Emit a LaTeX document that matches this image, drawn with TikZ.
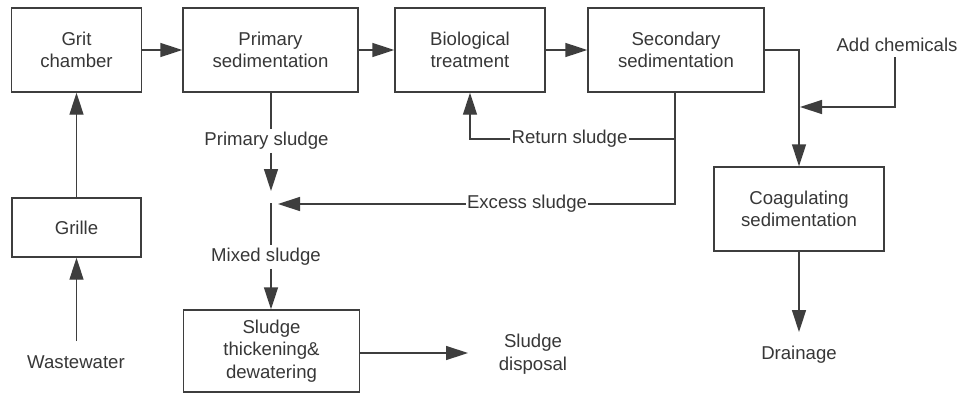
\documentclass[tikz,border=0pt]{standalone}
\usepackage{fontspec}
\setmainfont{Liberation Sans}
\usetikzlibrary{arrows.meta,calc}
\definecolor{ln}{RGB}{62,62,62}
\definecolor{tx}{RGB}{55,55,55}
\begin{document}
\begin{tikzpicture}[x=1pt,y=-1pt,
  every node/.style={font=\fontsize{18.6}{22.5}\selectfont, text=tx},
  box/.style={draw=ln, line width=1.4pt, inner sep=0pt, align=center},
  txt/.style={inner sep=0pt, align=center},
  lbl/.style={inner xsep=1pt, inner ysep=3pt},
  conn/.style={draw=ln, line width=1.4pt},
  arr/.style={conn, -{Triangle[length=22pt,width=14pt]}}]
\useasboundingbox[fill=white] (0,0) rectangle (960,394);
% process boxes
\node[box, minimum width=130pt, minimum height=84pt] (grit) at (76.5,50) {Grit\\chamber};
\node[box, minimum width=175pt, minimum height=84pt] (prim) at (270.5,50) {Primary\\sedimentation};
\node[box, minimum width=150pt, minimum height=84pt] (bio) at (470,50) {Biological\\treatment};
\node[box, minimum width=176pt, minimum height=84pt] (sec) at (676,50) {Secondary\\sedimentation};
\node[box, minimum width=129pt, minimum height=59pt] (grille) at (76.5,227.5) {Grille};
\node[box, minimum width=176pt, minimum height=82pt] (sbox) at (271.5,351) {Sludge\\thickening\&\\dewatering};
\node[box, minimum width=170pt, minimum height=84pt] (coag) at (799,209) {Coagulating\\sedimentation};
% free texts
\node[txt] (ww) at (76,362) {Wastewater};
\node[txt] (drain) at (799,355) {Drainage};
\node[txt] (disp) at (533,354) {Sludge\\disposal};
\node[txt] (ac) at (897,45) {Add chemicals};
% labels on lines
\node[lbl] (ps) at (266.5,141) {Primary sludge};
\node[lbl] (ms) at (266,257) {Mixed sludge};
\node[lbl] (rs) at (569.5,139) {Return sludge};
\node[lbl] (es) at (527,204) {Excess sludge};
% helper coordinates
\coordinate (jA) at (271,191);
\coordinate (jB) at (271,203);
\coordinate (jC) at (278,204);
\coordinate (sdTip) at (468,353);
\coordinate (ccIn) at (800,107);
\coordinate (acTop) at (895,57);
\coordinate (drTip) at (799,332);
\coordinate (wwBot) at (76.5,341);
\coordinate (exCorner) at (675,204);
% main line
\draw[arr] (grit) -- (prim);
\draw[arr] (prim) -- (bio);
\draw[arr] (bio) -- (sec);
\draw[arr] (grille) -- (grit);
\draw[arr] (wwBot) -- (grille);
\draw[arr] (sec.east) -| (coag.north);
\draw[arr] (acTop) |- (ccIn);
\draw[arr] (coag) -- (drTip);
\draw[arr] (sbox.east |- sdTip) -- (sdTip);
% sludge lines
\draw[conn] (jA |- prim.south) -- (jA |- ps.north);
\draw[arr] (jA |- ps.south) -- (jA);
\draw[conn] (jB) -- (jB |- ms.north);
\draw[arr] (jB |- ms.south) -- (jB |- sbox.north);
\draw[conn] (exCorner |- sec.south) -- (exCorner) -- (es.east);
\draw[arr] (es.west) -- (jC);
\draw[conn] (exCorner |- rs) -- (rs.east);
\draw[arr] (rs.west) -- (bio.south |- rs) -- (bio.south);
\end{tikzpicture}
\end{document}
